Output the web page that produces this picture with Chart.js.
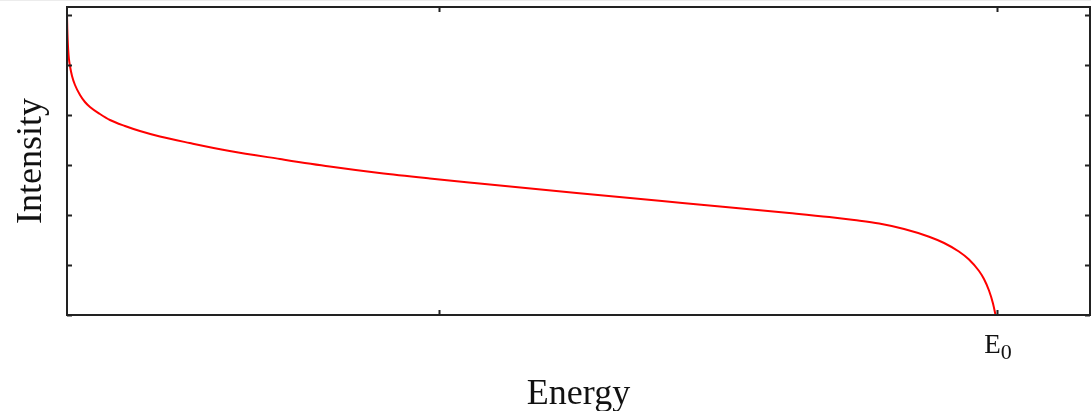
<!DOCTYPE html>
<html>
<head>
<meta charset="utf-8">
<title>Intensity vs Energy</title>
<script src="https://cdn.jsdelivr.net/npm/chart.js@4"></script>
<style>
  html, body { margin: 0; padding: 0; background: #fff; }
  canvas { display: block; }
</style>
</head>
<body>
<canvas id="spectrum" width="1091" height="411"></canvas>
<script>
// energy in units of E0, intensity in arbitrary units
const energy = [0, 0.0003, 0.00075, 0.0013, 0.0021, 0.0032, 0.0054, 0.0086, 0.014, 0.0193, 0.0247, 0.0354, 0.0462,
  0.0623, 0.0784, 0.0999, 0.132, 0.175, 0.229, 0.2825, 0.336, 0.39, 0.4436, 0.548, 0.6617, 0.7766,
  0.8196, 0.8464, 0.8733, 0.9001, 0.927, 0.9431, 0.959, 0.9699, 0.9807, 0.986, 0.9914, 0.9957, 0.9984];
const intensity = [6.0, 5.74, 5.5, 5.3, 5.12, 4.98, 4.78, 4.6, 4.4, 4.26, 4.16, 4.02, 3.9,
  3.78, 3.68, 3.57, 3.44, 3.28, 3.12, 2.97, 2.84, 2.73, 2.63, 2.44, 2.24, 2.04,
  1.96, 1.90, 1.83, 1.72, 1.566, 1.44, 1.27, 1.11, 0.88, 0.72, 0.49, 0.23, 0];

const yTicks = [0, 1, 2, 3, 4, 5, 6];
const xTicks = [0.4, 1.0];
const xLabels = [{ value: 1.0, main: 'E', sub: '0' }];

const serif = '"Liberation Serif", "DejaVu Serif", serif';

// frame with inward ticks + axis titles, gnuplot style
const framePlugin = {
  id: 'frame',
  afterDraw(chart) {
    const { ctx, chartArea: a, scales } = chart;
    const xs = scales.x, ys = scales.y;
    const tick = 5;
    ctx.save();
    // thin grey strip along the top edge of the original screenshot
    ctx.fillStyle = '#ececec';
    ctx.fillRect(0, 0, chart.width, 1);

    ctx.strokeStyle = '#222';
    ctx.lineWidth = 2;
    ctx.strokeRect(a.left, a.top, a.right - a.left, a.bottom - a.top);

    ctx.beginPath();
    yTicks.forEach(v => {
      const y = Math.round(ys.getPixelForValue(v)) + 0.5;
      ctx.moveTo(a.left, y); ctx.lineTo(a.left + tick, y);
      ctx.moveTo(a.right, y); ctx.lineTo(a.right - tick, y);
    });
    xTicks.forEach(v => {
      const x = Math.round(xs.getPixelForValue(v)) + 0.5;
      ctx.moveTo(x, a.bottom); ctx.lineTo(x, a.bottom - tick);
      ctx.moveTo(x, a.top); ctx.lineTo(x, a.top + tick);
    });
    ctx.stroke();

    // tick label(s)
    ctx.fillStyle = '#111';
    ctx.textBaseline = 'alphabetic';
    xLabels.forEach(l => {
      const x = xs.getPixelForValue(l.value);
      ctx.font = '27px ' + serif;
      const wMain = ctx.measureText(l.main).width;
      ctx.font = '22px ' + serif;
      const wSub = ctx.measureText(l.sub).width;
      const left = x - (wMain + wSub) / 2 + 1;
      ctx.textAlign = 'left';
      ctx.font = '27px ' + serif;
      ctx.fillText(l.main, left, a.bottom + 38);
      ctx.font = '22px ' + serif;
      ctx.fillText(l.sub, left + wMain, a.bottom + 44);
    });

    // axis titles
    ctx.font = '36px ' + serif;
    ctx.textAlign = 'center';
    ctx.fillText('Energy', (a.left + a.right) / 2, 404);
    ctx.translate(41, (a.top + a.bottom) / 2);
    ctx.rotate(-Math.PI / 2);
    ctx.fillText('Intensity', 0, 0);
    ctx.restore();
  }
};

new Chart(document.getElementById('spectrum'), {
  type: 'line',
  data: {
    datasets: [{
      label: 'Intensity',
      data: energy.map((e, i) => ({ x: e, y: intensity[i] })),
      borderColor: '#ff0000',
      borderWidth: 2,
      pointRadius: 0,
      fill: false,
      cubicInterpolationMode: 'monotone'
    }]
  },
  options: {
    responsive: false,
    animation: false,
    layout: { padding: { left: 67, top: 7, right: 1, bottom: 96 } },
    plugins: { legend: { display: false }, tooltip: { enabled: false } },
    scales: {
      x: { type: 'linear', min: 0, max: 1.1, display: false },
      y: { type: 'linear', min: 0, max: 6.16, display: false }
    }
  },
  plugins: [framePlugin]
});
</script>
</body>
</html>
